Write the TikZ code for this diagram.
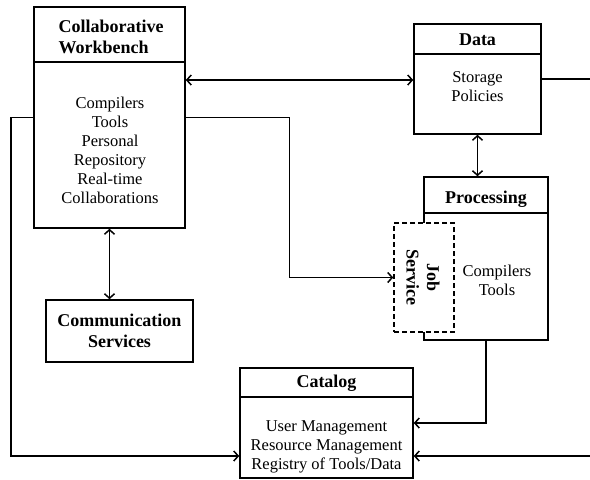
\documentclass[tikz,border=0pt]{standalone}
\usepackage{fontspec}
\setmainfont{Liberation Serif}
\usetikzlibrary{arrows.meta,calc}
\begin{document}
\begin{tikzpicture}[x=1pt,y=-1pt,
  box/.style={draw,line width=1.5pt,inner sep=0pt},
  body/.style={font=\fontsize{16.5}{19}\selectfont,align=center,inner sep=0pt},
  head/.style={font=\fontsize{18}{20.5}\selectfont\bfseries,align=center,inner sep=0pt},
  link/.style={line width=1.5pt},
  tip/.style={-{Straight Barb[length=4.5pt,width=10pt,line width=1.5pt]}},
  both/.style={{Straight Barb[length=4.5pt,width=10pt,line width=1.5pt]}-{Straight Barb[length=4.5pt,width=10pt,line width=1.5pt]}}
]
\useasboundingbox (0,0) rectangle (590,480);

% boxes
\node[box,minimum width=151pt,minimum height=221pt] (wb) at (109.5,117.5) {};
\node[box,minimum width=127pt,minimum height=110pt] (data) at (477.5,79) {};
\node[box,minimum width=124pt,minimum height=163pt] (proc) at (486,258.5) {};
\node[box,minimum width=147pt,minimum height=62pt] (comm) at (119.5,331) {};
\node[box,minimum width=173pt,minimum height=110pt] (cat) at (326.5,423) {};
\node[box,dashed,dash pattern=on 5pt off 3pt,fill=white,minimum width=60pt,minimum height=109pt] (job) at (424,277.5) {};

% header dividers
\draw[link] (wb.west |- 0,62) -- (wb.east |- 0,62);
\draw[link] (data.west |- 0,54) -- (data.east |- 0,54);
\draw[link] (proc.west |- 0,213) -- (proc.east |- 0,213);
\draw[link] (cat.west |- 0,397) -- (cat.east |- 0,397);

% texts
\node[head,align=left] (wbh) at (111,37) {Collaborative\\Workbench};
\node[body] (wbb) at (110,150) {Compilers\\Tools\\Personal\\Repository\\Real-time\\Collaborations};
\node[head] (datah) at (477.5,40) {Data};
\node[body] (datab) at (477.5,87) {Storage\\Policies};
\node[head] (proch) at (486,199) {Processing};
\node[body] (procb) at (497,280) {Compilers\\Tools};
\node[head,rotate=-90] (jobt) at (423,277.5) {Job\\Service};
\node[head] (commt) at (119.5,331) {Communication\\Services};
\node[head] (cath) at (326.5,383) {Catalog};
\node[body] (catb) at (326.5,447) {User Management\\Resource Management\\Registry of Tools/Data};

% connector helpers
\coordinate (lx) at (11,0);
\coordinate (rowB) at (0,456);
\coordinate (dout) at (590,79);
\coordinate (rin) at (590,456);
\coordinate (wbup) at (0,80);

% connectors
\draw[link,both] (wb.east |- wbup) -- (data.west |- wbup);
\draw[link] (data.east) -- (dout);
\draw[link,both] (data.south) -- (data.south |- proc.north);
\draw[link,both] (wb.south) -- (wb.south |- comm.north);
\draw[link,tip] (wb.east) -| ($(wb.east)!.5!(job.west)$) |- (job.west);
\draw[link,tip] (wb.west) -| (lx |- rowB) -- (cat.west |- rowB);
\draw[link,tip] (proc.south) |- (cat.east);
\draw[link,tip] (rin) -- (cat.east |- rin);
\end{tikzpicture}
\end{document}
